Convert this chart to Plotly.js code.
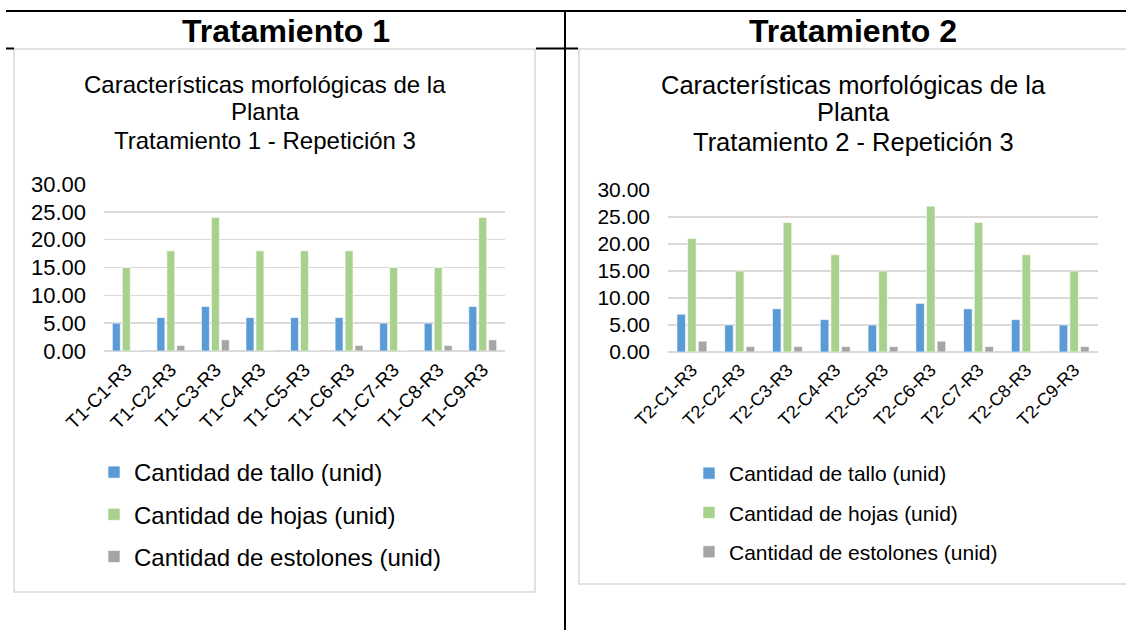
<!DOCTYPE html>
<html>
<head>
<meta charset="utf-8">
<script src="https://cdn.plot.ly/plotly-3.0.1.min.js"></script>
<style>
  html, body { margin: 0; padding: 0; background: #fff; }
  #chart { width: 1126px; height: 630px; }
</style>
</head>
<body>
<div id="chart"></div>
<script>
// Plant morphology counts, treatment 1 and treatment 2 (repetition 3)
const catsT1 = ['T1-C1-R3', 'T1-C2-R3', 'T1-C3-R3', 'T1-C4-R3', 'T1-C5-R3', 'T1-C6-R3', 'T1-C7-R3', 'T1-C8-R3', 'T1-C9-R3'];
const talloT1 = [5, 6, 8, 6, 6, 6, 5, 5, 8];
const hojasT1 = [15, 18, 24, 18, 18, 18, 15, 15, 24];
const estolonesT1 = [0, 1, 2, 0, 0, 1, 0, 1, 2];

const catsT2 = ['T2-C1-R3', 'T2-C2-R3', 'T2-C3-R3', 'T2-C4-R3', 'T2-C5-R3', 'T2-C6-R3', 'T2-C7-R3', 'T2-C8-R3', 'T2-C9-R3'];
const talloT2 = [7, 5, 8, 6, 5, 9, 8, 6, 5];
const hojasT2 = [21, 15, 24, 18, 15, 27, 24, 18, 15];
const estolonesT2 = [2, 1, 1, 1, 1, 2, 1, 0, 1];

const seriesNames = ['Cantidad de tallo (unid)', 'Cantidad de hojas (unid)', 'Cantidad de estolones (unid)'];
const seriesColors = ['#5b9bd5', '#a9d18e', '#a5a5a5'];
const yTicks = [0, 5, 10, 15, 20, 25, 30];

const W = 1126, H = 630;
const px = x => x / W;
const py = y => 1 - y / H;
const FONT = 'Liberation Sans, Arial, sans-serif';

function bars(cats, values, i, xa, ya, legendId, group) {
  return {
    type: 'bar',
    x: cats,
    y: values,
    name: seriesNames[i],
    xaxis: xa,
    yaxis: ya,
    legend: legendId,
    legendgroup: group + i,
    marker: { color: seriesColors[i], line: { color: '#ffffff', width: 0.6 } },
    hoverinfo: 'x+y+name'
  };
}

const traces = [
  bars(catsT1, talloT1, 0, 'x', 'y', 'legend', 'a'),
  bars(catsT1, hojasT1, 1, 'x', 'y', 'legend', 'a'),
  bars(catsT1, estolonesT1, 2, 'x', 'y', 'legend', 'a'),
  bars(catsT2, talloT2, 0, 'x2', 'y2', 'legend2', 'b'),
  bars(catsT2, hojasT2, 1, 'x2', 'y2', 'legend2', 'b'),
  bars(catsT2, estolonesT2, 2, 'x2', 'y2', 'legend2', 'b')
];

function xAxis(domain, anchor, size) {
  return {
    domain: domain, anchor: anchor,
    type: 'category',
    tickangle: -45,
    tickfont: { family: FONT, size: size, color: '#000' },
    showgrid: false, showline: false, zeroline: false,
    ticks: '', ticklabelstandoff: 3, fixedrange: true
  };
}
function yAxis(domain, anchor, size) {
  return {
    domain: domain, anchor: anchor,
    range: [0, 30],
    tickvals: yTicks,
    tickformat: '.2f',
    tickfont: { family: FONT, size: size, color: '#000' },
    showgrid: true, gridcolor: '#d9d9d9', gridwidth: 1.4,
    zeroline: true, zerolinecolor: '#d9d9d9', zerolinewidth: 1.4,
    showline: false, ticks: '', ticklabelstandoff: 17, fixedrange: true
  };
}

function titleLine(text, x, y, size) {
  return { text: text, xref: 'paper', yref: 'paper', x: px(x), y: py(y),
    xanchor: 'center', yanchor: 'middle', showarrow: false,
    font: { family: FONT, size: size, color: '#000' } };
}

const blackLine = { color: '#000', width: 2 };
const boxLine = { color: '#d9d9d9', width: 1.5 };

const layout = {
  width: W, height: H,
  margin: { l: 0, r: 0, t: 0, b: 0 },
  paper_bgcolor: '#fff', plot_bgcolor: 'rgba(0,0,0,0)',
  font: { family: FONT, color: '#000' },
  barmode: 'group',
  bargap: 0.33,
  bargroupgap: 0.2,
  showlegend: true,
  xaxis: xAxis([px(104), px(505)], 'y', 19),
  yaxis: yAxis([py(351), py(184)], 'x', 22),
  xaxis2: xAxis([px(668), px(1098)], 'y2', 18),
  yaxis2: yAxis([py(352), py(190)], 'x2', 21),
  legend: {
    x: px(94), xanchor: 'left', y: py(450), yanchor: 'top',
    font: { family: FONT, size: 24, color: '#000' },
    traceorder: 'grouped', tracegroupgap: 8,
    bgcolor: 'rgba(0,0,0,0)'
  },
  legend2: {
    x: px(689), xanchor: 'left', y: py(453), yanchor: 'top',
    font: { family: FONT, size: 21, color: '#000' },
    traceorder: 'grouped', tracegroupgap: 9,
    bgcolor: 'rgba(0,0,0,0)'
  },
  annotations: [
    { text: '<b>Tratamiento 1</b>', xref: 'paper', yref: 'paper', x: px(286), y: py(31),
      xanchor: 'center', yanchor: 'middle', showarrow: false, font: { family: FONT, size: 32, color: '#000' } },
    { text: '<b>Tratamiento 2</b>', xref: 'paper', yref: 'paper', x: px(853), y: py(31),
      xanchor: 'center', yanchor: 'middle', showarrow: false, font: { family: FONT, size: 32, color: '#000' } },
    titleLine('Características morfológicas de la', 265, 85, 24),
    titleLine('Planta', 265, 111, 24),
    titleLine('Tratamiento 1 - Repetición 3', 265, 140, 24),
    titleLine('Características morfológicas de la', 853, 85, 25.5),
    titleLine('Planta', 853, 112, 25.5),
    titleLine('Tratamiento 2 - Repetición 3', 853, 142, 25.5)
  ],
  shapes: [
    // table rules
    { type: 'line', xref: 'paper', yref: 'paper', x0: px(6), x1: px(1126), y0: py(11), y1: py(11), line: blackLine },
    { type: 'line', xref: 'paper', yref: 'paper', x0: px(565), x1: px(565), y0: py(11), y1: py(630), line: blackLine },
    { type: 'line', xref: 'paper', yref: 'paper', x0: px(6), x1: px(14), y0: py(48.5), y1: py(48.5), line: blackLine },
    { type: 'line', xref: 'paper', yref: 'paper', x0: px(536), x1: px(578), y0: py(48.5), y1: py(48.5), line: blackLine },
    // chart frames
    { type: 'rect', xref: 'paper', yref: 'paper', x0: px(14), x1: px(535), y0: py(592), y1: py(49), line: boxLine, layer: 'below' },
    { type: 'rect', xref: 'paper', yref: 'paper', x0: px(579), x1: px(1132), y0: py(584), y1: py(49), line: boxLine, layer: 'below' }
  ]
};

Plotly.newPlot('chart', traces, layout, { displayModeBar: false, staticPlot: true });
</script>
</body>
</html>
